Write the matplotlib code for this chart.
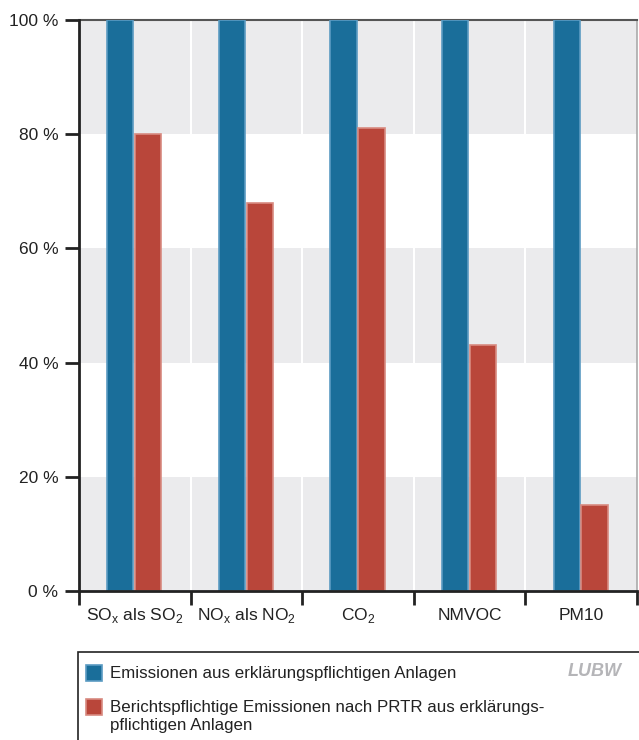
import numpy as np
import matplotlib.pyplot as plt
from matplotlib.patches import Rectangle

plt.rcParams['font.family'] = ['Liberation Sans', 'DejaVu Sans']

categories = [r"SO$_\mathregular{x}$ als SO$_\mathregular{2}$",
              r"NO$_\mathregular{x}$ als NO$_\mathregular{2}$",
              r"CO$_\mathregular{2}$", "NMVOC", "PM10"]
erkl = [100, 100, 100, 100, 100]
prtr = [80, 68, 81, 43, 15]
series_names = ["Emissionen aus erklärungspflichtigen Anlagen",
                "Berichtspflichtige Emissionen nach PRTR aus erklärungs-\npflichtigen Anlagen"]
yticks = [0, 20, 40, 60, 80, 100]

BLUE = "#1a6e9a"
BLUE_EDGE = "#5b9bc2"
RED = "#b9463a"
RED_EDGE = "#d88a80"
BAND = "#ebebed"
TXT = "#222222"

fig = plt.figure(figsize=(6.39, 7.40), dpi=100)
ax = fig.add_axes([79 / 639, 1 - 591 / 740, 558 / 639, 571 / 740])

n = len(categories)
ax.set_xlim(0, n)
ax.set_ylim(0, 100)

# horizontal bands
for lo in (0, 40, 80):
    ax.axhspan(lo, lo + 20, color=BAND, lw=0, zorder=0)
# vertical white dividers
for i in range(1, n):
    ax.axvline(i, color="white", lw=1.5, zorder=1)

x = np.arange(n) + 0.5
w = 0.235
ax.bar(x - 0.13, erkl, width=w, color=BLUE, edgecolor=BLUE_EDGE, lw=1.2, zorder=3)
ax.bar(x + 0.12, prtr, width=w, color=RED, edgecolor=RED_EDGE, lw=1.2, zorder=3)

ax.set_yticks(yticks)
ax.set_yticklabels([f"{v} %" for v in yticks], fontsize=12.5, color=TXT)
ax.set_xticks(np.arange(n + 1), minor=False)
ax.set_xticklabels([])
ax.set_xticks(x, minor=True)
ax.set_xticklabels(categories, minor=True, fontsize=12.5, color=TXT)
for lbl in ax.get_xticklabels(minor=True):
    lbl.set_verticalalignment("baseline")
ax.tick_params(axis="x", which="major", length=10, width=2, direction="out", color=TXT)
ax.tick_params(axis="x", which="minor", length=0, pad=21)
ax.tick_params(axis="y", length=10, width=2, direction="out", color=TXT, pad=5)

for s in ("left", "bottom"):
    ax.spines[s].set_linewidth(2)
    ax.spines[s].set_color(TXT)
    ax.spines[s].set_zorder(5)
ax.spines["top"].set_color("#555555")
ax.spines["top"].set_linewidth(1.5)
ax.spines["right"].set_color("#aaaaaa")
ax.spines["right"].set_linewidth(1.2)

# legend box
W, H = 639, 740
def fx(px):
    return px / W
def fy(py):
    return 1 - py / H

box = Rectangle((fx(78), fy(745)), fx(645) - fx(78), fy(652) - fy(745),
                transform=fig.transFigure, facecolor="white", edgecolor=TXT,
                lw=1.2, clip_on=False)
fig.patches.append(box)
for py, col, edge, name in [(665, BLUE, BLUE_EDGE, series_names[0]),
                             (699, RED, RED_EDGE, series_names[1])]:
    fig.patches.append(Rectangle((fx(86), fy(py + 16)), fx(102) - fx(86), fy(py) - fy(py + 16),
                                 transform=fig.transFigure, facecolor=col,
                                 edgecolor=edge, lw=1.2))
    fig.text(fx(110), fy(py + 1), name, ha="left", va="top", fontsize=12.2,
             color=TXT, linespacing=1.22)

fig.text(fx(622), fy(672), "LUBW", ha="right", va="center", fontsize=13,
         family=["Liberation Sans Narrow", "Liberation Sans"],
         fontweight="bold", fontstyle="italic", color="#b5b5b8")

fig.savefig("out.png", dpi=100)
